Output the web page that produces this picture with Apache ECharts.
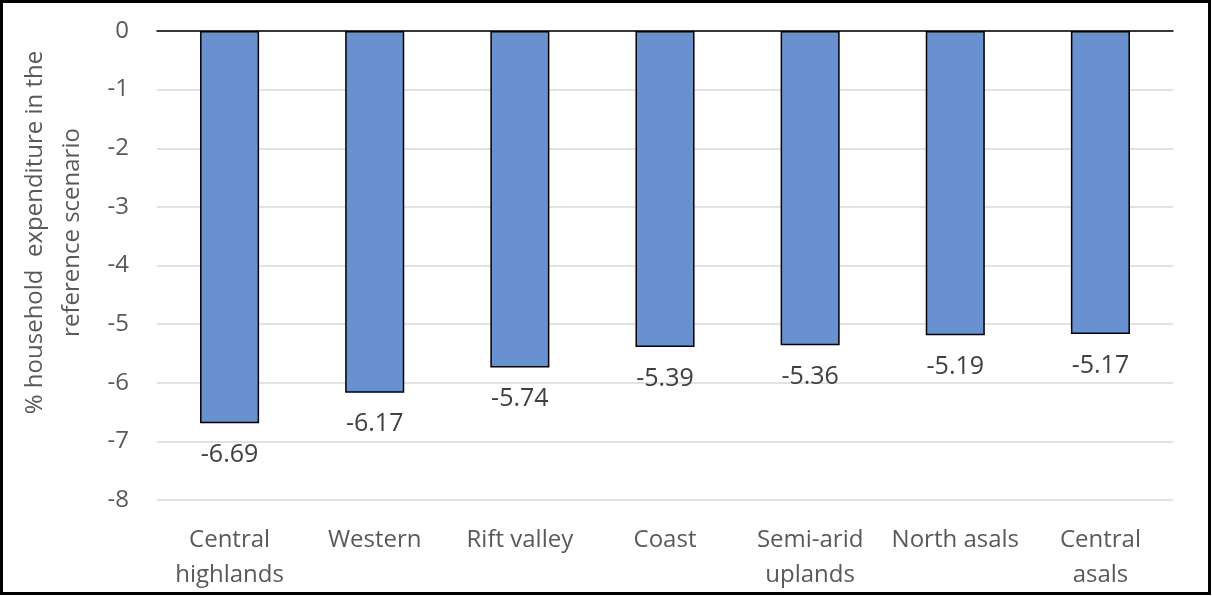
<!DOCTYPE html>
<html>
<head>
<meta charset="utf-8">
<script src="https://cdn.jsdelivr.net/npm/echarts@6/dist/echarts.min.js"></script>
<style>
  html, body { margin: 0; padding: 0; background: #fff; }
  #chart { width: 1212px; height: 596px; }
</style>
</head>
<body>
<div id="chart"></div>
<script>
// Regions and change in household expenditure (%)
const regions = ['Central\nhighlands', 'Western', 'Rift valley', 'Coast', 'Semi-arid\nuplands', 'North asals', 'Central\nasals'];
const expenditureChange = [-6.69, -6.17, -5.74, -5.39, -5.36, -5.19, -5.17];
const yTicks = { min: -8, max: 0, interval: 1 };
const yTitle = '% household  expenditure in the\nreference scenario';

const FONT = 'Open Sans';
const chart = echarts.init(document.getElementById('chart'), null, { renderer: 'canvas' });

chart.setOption({
  animation: false,
  backgroundColor: '#fff',
  grid: { left: 157, right: 39, top: 31, bottom: 96, containLabel: false, outerBoundsMode: 'none' },
  xAxis: [
    {
      type: 'category',
      data: regions,
      position: 'bottom',
      axisLine: { show: false, onZero: false },
      axisTick: { show: false },
      axisLabel: {
        color: '#595959', fontFamily: FONT, fontSize: 24, lineHeight: 35,
        margin: 23, interval: 0
      },
      splitLine: { show: false }
    },
    {
      // baseline at zero
      type: 'category',
      data: regions,
      position: 'top',
      axisLine: { show: true, onZero: false, lineStyle: { color: '#000', width: 1.5 } },
      axisTick: { show: false },
      axisLabel: { show: false }
    }
  ],
  yAxis: {
    type: 'value',
    min: yTicks.min, max: yTicks.max, interval: yTicks.interval,
    axisLine: { show: false },
    axisTick: { show: false },
    axisLabel: { color: '#595959', fontFamily: FONT, fontSize: 24, margin: 28 },
    splitLine: { lineStyle: { color: '#d9d9d9', width: 1.5 } },
    name: yTitle,
    nameLocation: 'middle',
    nameGap: 66,
    nameRotate: 90,
    nameTextStyle: {
      color: '#595959', fontFamily: FONT, fontSize: 24, lineHeight: 37,
      align: 'center', padding: [0, 0, 0, 66]
    }
  },
  series: [{
    type: 'bar',
    xAxisIndex: 0,
    data: expenditureChange,
    barWidth: '40.7%',
    itemStyle: { color: '#6990cf', borderColor: '#000', borderWidth: 1.5 },
    label: {
      show: true,
      position: 'bottom',
      distance: 19,
      color: '#404040',
      fontFamily: FONT,
      fontSize: 25,
      formatter: p => p.value.toFixed(2)
    }
  }],
  graphic: [{
    type: 'rect',
    silent: true,
    shape: { x: 1.5, y: 1.5, width: 1208, height: 592 },
    style: { fill: null, stroke: '#000', lineWidth: 3 }
  }]
});
</script>
</body>
</html>
